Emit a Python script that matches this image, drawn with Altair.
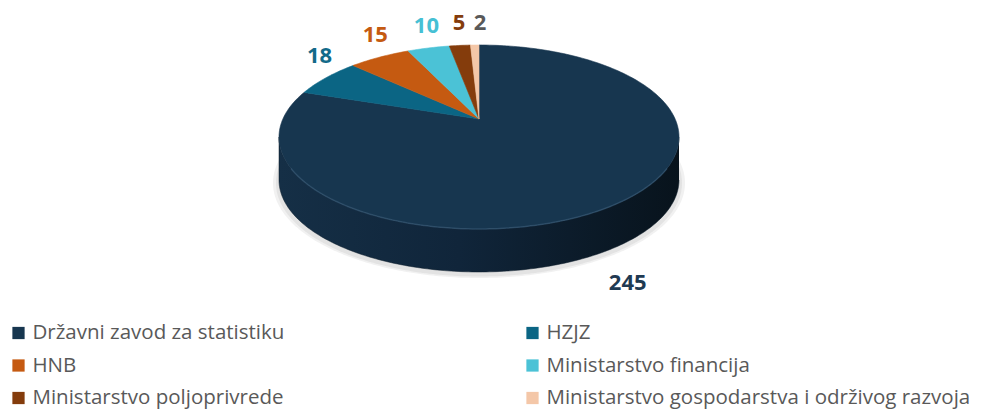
import math
import altair as alt
import pandas as pd

# ---- data -------------------------------------------------------------
categories = [
    "Državni zavod za statistiku",
    "HZJZ",
    "HNB",
    "Ministarstvo financija",
    "Ministarstvo poljoprivrede",
    "Ministarstvo gospodarstva i održivog razvoja",
]
values = [245, 18, 15, 10, 5, 2]

# ---- style / layout ---------------------------------------------------
slice_colors = ["#17364f", "#0b6584", "#c55a11", "#4bc2d6", "#843c0c", "#f4c7a8"]
label_colors = ["#1f3a52", "#136a89", "#c55a11", "#46c0d4", "#843c0c", "#595959"]

W, H = 966, 402          # drawing area (page minus 8px margin)
CX, CY = 471, 129        # centre of the top ellipse
RX, RY = 200, 92         # radii of the top ellipse
APEX_DY = -18            # perspective shift of the apex
DEPTH = 43               # thickness of the pie
BACK_OX, BACK_OY = 8, -22
FRONT_OX, FRONT_OY = 93, 27
MIN_LABEL_GAP = 21


def pt(theta, dy=0.0, grow=0.0):
    t = math.radians(theta)
    return CX + (RX + grow) * math.sin(t), CY - (RY + grow * 0.5) * math.cos(t) + dy


total = float(sum(values))
bounds = []
acc = 0.0
for v in values:
    start = acc / total * 360.0
    acc += v
    bounds.append((start, acc / total * 360.0))

# top faces
top_rows = []
for cat, (a0, a1) in zip(categories, bounds):
    i = 0
    top_rows.append(dict(cat=cat, i=i, x=CX, y=CY + APEX_DY)); i += 1
    n = max(2, int(math.ceil((a1 - a0) / 1.0)) + 1)
    for k in range(n):
        x, y = pt(a0 + (a1 - a0) * k / (n - 1))
        top_rows.append(dict(cat=cat, i=i, x=x, y=y)); i += 1
    top_rows.append(dict(cat=cat, i=i, x=CX, y=CY + APEX_DY))
top_df = pd.DataFrame(top_rows)

# visible side (front half, 90..270 deg)
side_rows = []
for cat, (a0, a1) in zip(categories, bounds):
    s, e = max(a0, 90.0), min(a1, 270.0)
    if e <= s:
        continue
    n = max(2, int(math.ceil(e - s)) + 1)
    angs = [s + (e - s) * k / (n - 1) for k in range(n)]
    i = 0
    for a in angs:
        x, y = pt(a)
        side_rows.append(dict(cat=cat, i=i, x=x, y=y)); i += 1
    for a in reversed(angs):
        x, y = pt(a, DEPTH)
        side_rows.append(dict(cat=cat, i=i, x=x, y=y)); i += 1
side_df = pd.DataFrame(side_rows)

# soft shadow below the pie
shadow_rows = []
for g, op in [(6, 0.25), (3, 0.35)]:
    for k in range(361):
        x, y = pt(k, DEPTH + 3, grow=g)
        shadow_rows.append(dict(g=g, i=k, x=x, y=y, op=op))
shadow_df = pd.DataFrame(shadow_rows)

# rim highlight along the front edge
rim_rows = []
for k in range(141):
    x, y = pt(110 + k)
    rim_rows.append(dict(i=k, x=x, y=y))
rim_df = pd.DataFrame(rim_rows)

# data labels (outside end, nudged apart when crowded)
lab_rows = []
prev_back_x = None
for cat, v, (a0, a1), lc in zip(categories, values, bounds, label_colors):
    mid = (a0 + a1) / 2
    s, c = math.sin(math.radians(mid)), math.cos(math.radians(mid))
    front = c < 0
    x, y = pt(mid, DEPTH if front else 0)
    if front:
        x += FRONT_OX * s
        y += FRONT_OY * abs(c)
    else:
        x += BACK_OX * s
        y += BACK_OY
        if prev_back_x is not None and x - prev_back_x < MIN_LABEL_GAP:
            x = prev_back_x + MIN_LABEL_GAP
        prev_back_x = x
    lab_rows.append(dict(cat=cat, label=str(v), x=x, y=y, c=lc))
lab_df = pd.DataFrame(lab_rows)

# legend (2 columns)
leg_rows = []
for idx, cat in enumerate(categories):
    col, row = idx % 2, idx // 2
    sx = 10.5 + col * 514
    sy = 325 + row * 32.5
    leg_rows.append(dict(cat=cat, sx=sx, tx=sx + 14, y=sy))
leg_df = pd.DataFrame(leg_rows)

xs = alt.Scale(domain=[0, W], nice=False, zero=False)
ys = alt.Scale(domain=[H, 0], nice=False, zero=False)   # larger value = lower
col_scale = alt.Scale(domain=categories, range=slice_colors)

X = lambda f="x": alt.X(f"{f}:Q", scale=xs, axis=None)
Y = lambda f="y": alt.Y(f"{f}:Q", scale=ys, axis=None)

shadow = alt.Chart(shadow_df).mark_line(fill="#c8c8c8", strokeWidth=0).encode(
    x=X(), y=Y(), detail="g:N", order="i:Q", opacity=alt.Opacity("op:Q", scale=None)
)

side = alt.Chart(side_df).mark_line(
    fill=alt.LinearGradient(
        gradient="linear", x1=0, x2=1, y1=0, y2=0,
        stops=[alt.GradientStop(color="#152f46", offset=0),
               alt.GradientStop(color="#10253a", offset=0.45),
               alt.GradientStop(color="#08131c", offset=1)],
    ),
    stroke="#0c1c2a", strokeWidth=0.5,
).encode(x=X(), y=Y(), detail="cat:N", order="i:Q")

top = alt.Chart(top_df).mark_line(strokeWidth=0.6).encode(
    x=X(), y=Y(), detail="cat:N", order="i:Q",
    fill=alt.Fill("cat:N", scale=col_scale, legend=None),
    stroke=alt.Stroke("cat:N", scale=col_scale, legend=None),
)

rim = alt.Chart(rim_df).mark_line(stroke="#3a5c7a", strokeWidth=1.5, opacity=0.55).encode(
    x=X(), y=Y(), order="i:Q"
)

labels = alt.Chart(lab_df).mark_text(
    font="Open Sans", fontSize=22, fontWeight="bold", align="center", baseline="middle"
).encode(x=X(), y=Y(), text="label:N", color=alt.Color("c:N", scale=None))

leg_sym = alt.Chart(leg_df).mark_square(size=150, opacity=1).encode(
    x=X("sx"), y=Y(), fill=alt.Fill("cat:N", scale=col_scale, legend=None)
)
leg_txt = alt.Chart(leg_df).mark_text(
    font="Open Sans", fontSize=20.5, align="left", baseline="middle", color="#595959"
).encode(x=X("tx"), y=Y(), text="cat:N")

chart = alt.layer(shadow, side, top, rim, labels, leg_sym, leg_txt).properties(
    width=W, height=H, padding=0, background="white",
    autosize=alt.AutoSizeParams(type="none"),
).configure_view(stroke=None)

chart.save("out.html", embed_options={"renderer": "svg", "actions": False})
